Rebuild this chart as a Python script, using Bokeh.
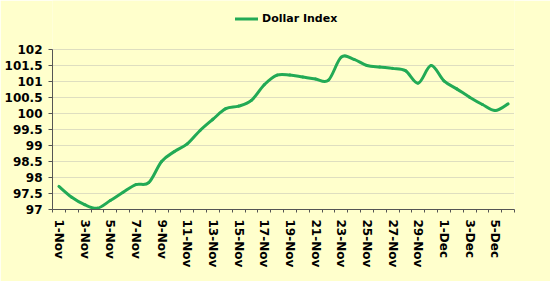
import numpy as np
from bokeh.plotting import figure
from bokeh.models import Range1d, FixedTicker, NumeralTickFormatter, Legend, LegendItem
from bokeh.embed import file_html
from bokeh.resources import INLINE

dates = ["1-Nov", "2-Nov", "3-Nov", "4-Nov", "5-Nov", "6-Nov", "7-Nov", "8-Nov", "9-Nov", "10-Nov",
         "11-Nov", "12-Nov", "13-Nov", "14-Nov", "15-Nov", "16-Nov", "17-Nov", "18-Nov", "19-Nov", "20-Nov",
         "21-Nov", "22-Nov", "23-Nov", "24-Nov", "25-Nov", "26-Nov", "27-Nov", "28-Nov", "29-Nov", "30-Nov",
         "1-Dec", "2-Dec", "3-Dec", "4-Dec", "5-Dec", "6-Dec"]
dollar_index = [97.72, 97.38, 97.15, 97.04, 97.28, 97.54, 97.78, 97.84, 98.50, 98.81,
                99.05, 99.47, 99.82, 100.15, 100.23, 100.41, 100.90, 101.20, 101.20, 101.14,
                101.08, 101.04, 101.76, 101.69, 101.50, 101.45, 101.41, 101.34, 100.95, 101.50,
                101.02, 100.77, 100.51, 100.28, 100.09, 100.30]
y_ticks = [97, 97.5, 98, 98.5, 99, 99.5, 100, 100.5, 101, 101.5, 102]

BG = "#ffffcc"
GREEN = "#22aa55"
FONT = "DejaVu Sans"

W, H = 550, 281
LEFT, RIGHT, BOTTOM = 52, 36, 72
FRAME_H = H - BOTTOM            # frame spans from the top edge to the x axis
PX_PER_UNIT = 32.0              # 0.5-unit grid steps are 16 px apart
y_top = y_ticks[0] + FRAME_H / PX_PER_UNIT   # room above 102 holds the legend

n = len(dates)
x = np.arange(n) + 0.5
y = np.array(dollar_index)

# Catmull-Rom style smoothing expressed as cubic Bezier segments through the data points
xp = np.concatenate([[x[0]], x, [x[-1]]])
yp = np.concatenate([[y[0]], y, [y[-1]]])
cx0 = x[:-1] + (xp[2:-1] - xp[0:-3]) / 6.0
cy0 = y[:-1] + (yp[2:-1] - yp[0:-3]) / 6.0
cx1 = x[1:] - (xp[3:] - xp[1:-2]) / 6.0
cy1 = y[1:] - (yp[3:] - yp[1:-2]) / 6.0

p = figure(width=W, height=H, x_range=Range1d(0, n), y_range=Range1d(y_ticks[0], y_top),
           output_backend="svg", toolbar_location=None,
           background_fill_color=BG, border_fill_color=BG,
           min_border_left=LEFT, min_border_right=RIGHT, min_border_top=0, min_border_bottom=BOTTOM)
p.outline_line_color = None

r = p.bezier(x0=x[:-1], y0=y[:-1], x1=x[1:], y1=y[1:],
             cx0=cx0, cy0=cy0, cx1=cx1, cy1=cy1,
             line_color=GREEN, line_width=3, line_cap="round")

# x axis
p.xaxis.ticker = FixedTicker(ticks=list(x[::2]), minor_ticks=list(range(n + 1)))
p.xaxis.major_label_overrides = {float(x[i]): dates[i] for i in range(0, n, 2)}
p.xaxis.major_label_orientation = "vertical"
p.xaxis.major_tick_line_color = None
p.xaxis.minor_tick_line_color = "#555555"
p.xaxis.minor_tick_out = 3
p.xaxis.minor_tick_in = 0
p.xaxis.major_label_standoff = 4
p.xgrid.grid_line_color = None

# y axis
p.yaxis.ticker = FixedTicker(ticks=y_ticks)
p.yaxis.bounds = (y_ticks[0], y_ticks[-1])
p.yaxis.formatter = NumeralTickFormatter(format="0.[0]")
p.yaxis.major_tick_out = 4
p.yaxis.major_tick_in = 0
p.yaxis.major_tick_line_color = "#555555"
p.yaxis.minor_tick_line_color = None
p.yaxis.major_label_standoff = 6
p.ygrid.grid_line_color = "#bdbdb5"
p.ygrid.grid_line_dash = "1 1"

for ax in (p.xaxis, p.yaxis):
    ax.axis_line_color = "#555555"
    ax.major_label_text_font = FONT
    ax.major_label_text_font_style = "bold"
    ax.major_label_text_font_size = "12px"
    ax.major_label_text_color = "#000000"

legend = Legend(items=[LegendItem(label="Dollar Index", renderers=[r])],
                location=(183, FRAME_H - 25), orientation="horizontal",
                border_line_color=None, background_fill_alpha=0,
                padding=2, margin=0, glyph_width=23, glyph_height=13,
                label_height=13, label_standoff=4,
                label_text_font=FONT, label_text_font_style="bold",
                label_text_font_size="11px", label_text_color="#000000")
p.add_layout(legend)

open("out.html", "w").write(file_html(p, INLINE))
